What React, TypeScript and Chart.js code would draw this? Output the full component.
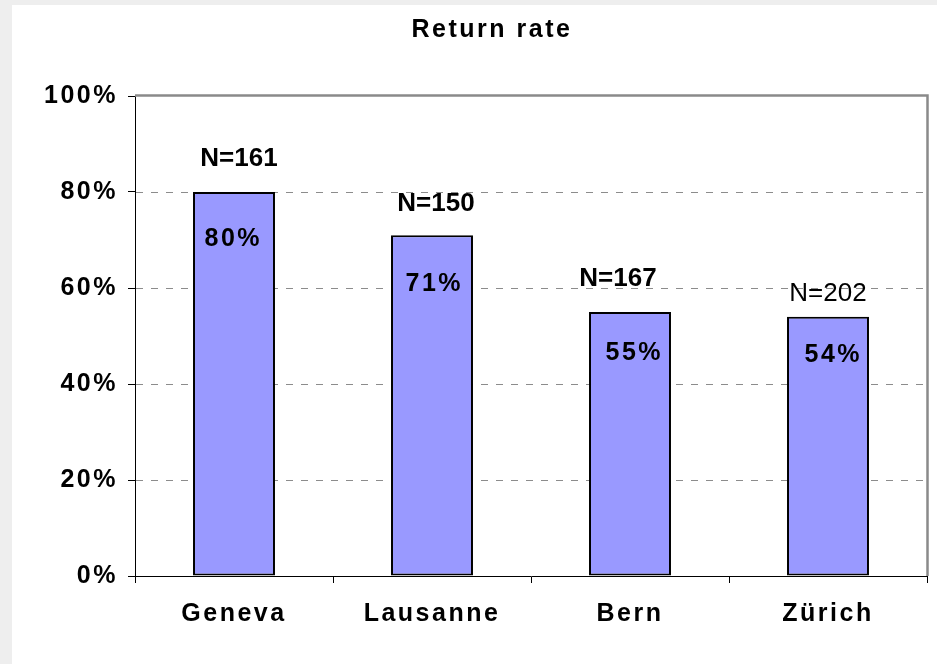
import React, { useEffect, useRef } from 'react';
import { Chart, registerables } from 'chart.js';

Chart.register(...registerables);

// ---- data ----
const chartTitle = 'Return rate';
const categories = ['Geneva', 'Lausanne', 'Bern', 'Zürich'];
const returnRates = [80, 71, 55, 54];
const sampleSizes = [161, 150, 167, 202];
const yTickValues = [0, 20, 40, 60, 80, 100];

// ---- styling / label placement (pixels relative to bar top & centre) ----
const FONT = '"Liberation Sans", Arial, Helvetica, sans-serif';
const labelLayout = [
  { nDx: 5, nDy: -35, nBold: true, pDx: -2, pDy: 45 },
  { nDx: 4, nDy: -34, nBold: true, pDx: 1, pDy: 47 },
  { nDx: -12, nDy: -35, nBold: true, pDx: 3, pDy: 39 },
  { nDx: 0, nDy: -25, nBold: false, pDx: 4, pDy: 36 },
];

const decorPlugin = {
  id: 'decor',
  beforeDraw(chart: any) {
    chart.ctx.letterSpacing = '2.5px';
  },
  beforeDatasetsDraw(chart: any) {
    const { ctx, chartArea, scales } = chart;
    const y = scales.y;
    ctx.save();
    ctx.letterSpacing = '0px';
    // dashed gridlines
    ctx.strokeStyle = '#8c8c8c';
    ctx.lineWidth = 1;
    ctx.setLineDash([7, 8]);
    yTickValues.forEach((v) => {
      if (v <= 0 || v >= 100) return;
      const py = Math.round(y.getPixelForValue(v)) + 0.5;
      ctx.beginPath();
      ctx.moveTo(chartArea.left + 1, py);
      ctx.lineTo(chartArea.right, py);
      ctx.stroke();
    });
    // plot-area frame (top & right, grey)
    ctx.setLineDash([]);
    ctx.strokeStyle = '#8a8a8a';
    ctx.lineWidth = 2.5;
    ctx.beginPath();
    ctx.moveTo(chartArea.left, chartArea.top - 0.5);
    ctx.lineTo(chartArea.right + 0.5, chartArea.top - 0.5);
    ctx.lineTo(chartArea.right + 0.5, chartArea.bottom);
    ctx.stroke();
    ctx.restore();
  },
  afterDatasetsDraw(chart: any) {
    const { ctx } = chart;
    const meta = chart.getDatasetMeta(0);
    ctx.save();
    ctx.fillStyle = '#000';
    ctx.textAlign = 'center';
    ctx.textBaseline = 'alphabetic';
    meta.data.forEach((bar: any, i: number) => {
      const lay = labelLayout[i];
      // N label
      ctx.letterSpacing = '0px';
      ctx.font = `${lay.nBold ? 'bold ' : ''}26px ${FONT}`;
      ctx.fillText(`N=${sampleSizes[i]}`, bar.x + lay.nDx, bar.y + lay.nDy + 9.3);
      // percentage label
      ctx.letterSpacing = '2.5px';
      ctx.font = `bold 25px ${FONT}`;
      ctx.fillText(`${returnRates[i]}%`, bar.x + lay.pDx + 1.25, bar.y + lay.pDy + 9);
    });
    ctx.restore();
  },
  afterDraw(chart: any) {
    const { ctx } = chart;
    ctx.save();
    ctx.letterSpacing = '2.5px';
    ctx.fillStyle = '#000';
    ctx.font = `bold 25px ${FONT}`;
    ctx.textAlign = 'center';
    ctx.textBaseline = 'alphabetic';
    ctx.fillText(chartTitle, 492, 36.5);
    ctx.restore();
  },
};

export default function App() {
  const canvasRef = useRef<HTMLCanvasElement | null>(null);

  useEffect(() => {
    if (!canvasRef.current) return;
    const chart = new Chart(canvasRef.current, {
      type: 'bar',
      data: {
        labels: categories,
        datasets: [
          {
            data: returnRates,
            backgroundColor: '#9999ff',
            borderColor: '#000000',
            borderWidth: 2,
            borderSkipped: false,
            barPercentage: 0.414,
            categoryPercentage: 1,
          },
        ],
      },
      options: {
        responsive: false,
        animation: false,
        devicePixelRatio: 1,
        layout: { padding: { left: 15, right: 10, top: 96, bottom: 0 } },
        plugins: {
          legend: { display: false },
          tooltip: { enabled: false },
          title: { display: false },
        },
        scales: {
          x: {
            type: 'category',
            offset: true,
            grid: {
              display: true,
              offset: true,
              drawOnChartArea: false,
              drawTicks: true,
              tickLength: 7,
              tickColor: '#000',
              color: '#000',
            },
            border: { display: true, color: '#000', width: 1 },
            ticks: {
              color: '#000',
              font: { family: FONT, size: 25, weight: 'bold' },
              padding: 16,
              maxRotation: 0,
            },
            afterFit: (scale: any) => {
              scale.height = 88;
            },
          },
          y: {
            min: 0,
            max: 100,
            grid: {
              display: true,
              drawOnChartArea: false,
              drawTicks: true,
              tickLength: 7,
              tickColor: '#000',
              color: '#000',
            },
            border: { display: true, color: '#000', width: 1 },
            ticks: {
              stepSize: 20,
              color: '#000',
              font: { family: FONT, size: 25, weight: 'bold' },
              padding: 10,
              callback: (v: any) => `${v}%`,
            },
            afterBuildTicks: (scale: any) => {
              scale.ticks = yTickValues.map((v) => ({ value: v }));
            },
            afterFit: (scale: any) => {
              scale.width = 120;
            },
          },
        },
      },
      plugins: [decorPlugin],
    });
    return () => chart.destroy();
  }, []);

  return (
    <div
      style={{
        position: 'absolute',
        left: 0,
        top: 0,
        width: 937,
        height: 664,
        background: '#eeeeee',
        overflow: 'hidden',
      }}
    >
      <div
        style={{
          position: 'absolute',
          left: 12,
          top: 5,
          right: 0,
          bottom: 0,
          background: '#ffffff',
        }}
      />
      <canvas
        ref={canvasRef}
        width={937}
        height={664}
        style={{ position: 'absolute', left: 0, top: 0, display: 'block' }}
      />
    </div>
  );
}
